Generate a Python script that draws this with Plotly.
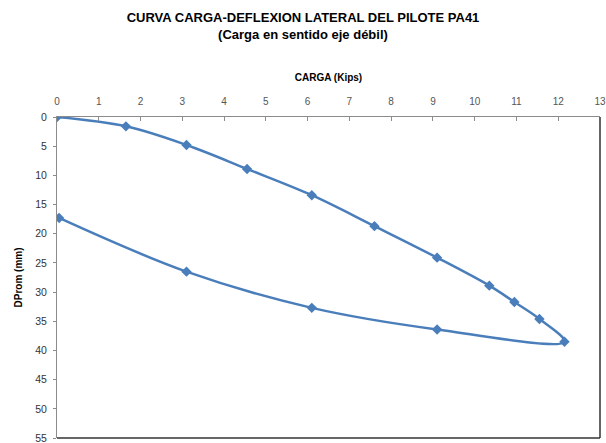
import plotly.graph_objects as go

# Load (0 -> 12.1 kips) then unload back to zero, in traversal order
carga_kips = [0.0, 1.65, 3.1, 4.55, 6.1, 7.6, 9.1, 10.35, 10.95, 11.55, 12.15,
              9.1, 6.1, 3.1, 0.05]
dprom_mm = [0.0, 1.6, 4.8, 8.9, 13.4, 18.7, 24.1, 28.9, 31.7, 34.6, 38.5,
            36.4, 32.7, 26.5, 17.3]

x_ticks = list(range(0, 14))
y_ticks = list(range(0, 60, 5))

BLUE = "#4A7EBB"
FONT = "Liberation Sans, Arial, sans-serif"

fig = go.Figure()
fig.add_trace(go.Scatter(
    x=carga_kips, y=dprom_mm,
    mode="lines+markers",
    line=dict(color=BLUE, width=2.5, shape="spline", smoothing=1.0),
    marker=dict(symbol="diamond", size=8, color=BLUE),
    showlegend=False, hoverinfo="x+y",
))

fig.update_layout(
    width=606, height=443,
    margin=dict(l=57, r=6, t=117, b=5, autoexpand=False),
    paper_bgcolor="white", plot_bgcolor="white",
    font=dict(family=FONT, color="#000"),
    title=dict(
        text="<b>CURVA CARGA-DEFLEXION LATERAL DEL PILOTE PA41</b><br><b>(Carga en sentido eje débil)</b>",
        x=0.5, xanchor="center", y=1, yanchor="top", yref="container",
        pad=dict(t=22),
        font=dict(size=13, family=FONT, color="#000"),
    ),
    xaxis=dict(
        side="top", range=[-0.0001, 13.0001], tickvals=x_ticks,
        ticktext=[str(v) for v in x_ticks],
        showgrid=False, zeroline=False, automargin=False,
        showline=True, linecolor="#8c8c8c", linewidth=1,
        ticks="inside", ticklen=4, tickcolor="#8c8c8c",
        tickfont=dict(size=10, color="#555", family=FONT),
        ticklabelstandoff=7, ticklabeloverflow="allow",
        title=dict(text="<b>CARGA (Kips)</b>", font=dict(size=10, family=FONT, color="#000"),
                   standoff=12),
    ),
    yaxis=dict(
        range=[55.0001, -0.0001], tickvals=y_ticks,
        showgrid=False, zeroline=False, automargin=False,
        showline=True, linecolor="#8c8c8c", linewidth=1,
        ticks="outside", ticklen=3, tickcolor="#8c8c8c",
        tickfont=dict(size=10.5, color="#333", family=FONT),
        ticklabelstandoff=4, ticklabeloverflow="allow",
        title=dict(text="<b>DProm (mm)</b>", font=dict(size=10, family=FONT, color="#000"),
                   standoff=10),
    ),
    shapes=[
        # dark frame on the right and bottom of the plotting area
        dict(type="line", xref="paper", yref="paper", x0=1, x1=1, y0=0, y1=1,
             line=dict(color="#333", width=1.5)),
        dict(type="line", xref="paper", yref="paper", x0=0, x1=1, y0=0, y1=0,
             line=dict(color="#333", width=1.5)),
    ],
)

fig.write_html("out.html")
